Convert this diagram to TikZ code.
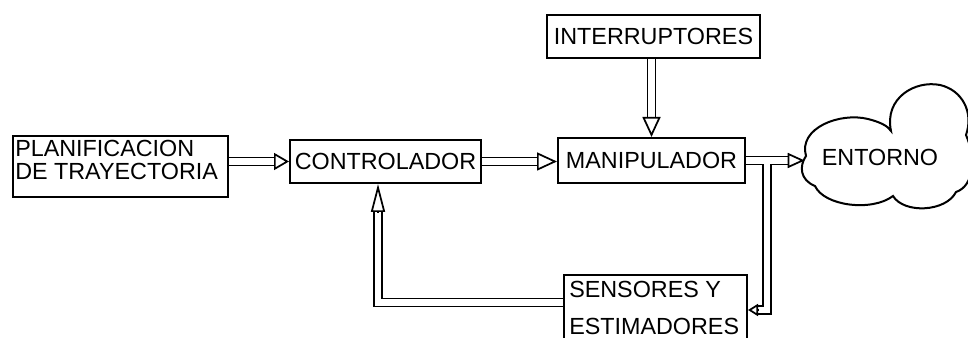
\documentclass[tikz,border=0pt]{standalone}
\usepackage{fontspec}
\setmainfont{Liberation Sans}
\usetikzlibrary{arrows.meta,calc}
\tikzset{
  box/.style={draw, line width=1.5pt, inner sep=0pt, font=\fontsize{17.5}{21}\selectfont},
  txt/.style={inner sep=0pt, anchor=north west, align=left},
  dbl/.style={draw, line width=1.3pt, double=white, double distance=4.8pt},
  hd/.style 2 args={draw, line width=1.3pt, -{Triangle[open, length=#1, width=#2]}},
  cloudline/.style={draw, line width=1.5pt},
}
\begin{document}
\begin{tikzpicture}[x=0.75pt, y=-0.75pt]
\clip (0,0) rectangle (968,338);
% boxes
\node[box, minimum width=161.25pt, minimum height=45.75pt] (plan) at (120.5,166.5) {};
\node[txt, font=\fontsize{17.5}{17.5}\selectfont] (plantext) at (15,140) {PLANIFICACION\\DE TRAYECTORIA};
\node[box, minimum width=143.25pt, minimum height=32.25pt] (cont) at (385.5,161.5) {CONTROLADOR};
\node[box, minimum width=140.25pt, minimum height=33.75pt] (manip) at (651.5,160.5) {MANIPULADOR};
\node[box, minimum width=159.75pt, minimum height=32.25pt] (intr) at (653.5,36.5) {INTERRUPTORES};
\node[box, minimum width=137.25pt, minimum height=52.5pt] (sens) at (655.5,310) {};
\node[txt, font=\fontsize{17.5}{27.75}\selectfont] (senstext) at (569,281) {SENSORES Y\\ESTIMADORES};
% cloud
\draw[cloudline] (806,156) .. controls (798,128) and (840,112) .. (868,119)
  .. controls (880,122) and (888,126) .. (891,131)
  .. controls (884,98) and (915,80) .. (940,85)
  .. controls (962,90) and (974,112) .. (966,135)
  .. controls (976,158) and (974,186) .. (956,192)
  .. controls (946,212) and (904,214) .. (893,196)
  .. controls (872,212) and (824,206) .. (815,186)
  .. controls (800,180) and (799,166) .. (806,156) -- cycle;
\node[inner sep=0pt, minimum width=112.5pt, font=\fontsize{17.5}{21}\selectfont] (ent) at (880,157) {ENTORNO};
% plan -> cont
\draw[dbl] (plan.east |- cont.west) -- ($(cont.west)+(-15,0)$);
\draw[hd={11.25pt}{12.75pt}] ($(cont.west)+(-15,0)$) -- (cont.west);
% cont -> manip
\coordinate (mi) at (cont.east -| manip.west);
\draw[dbl] (cont.east) -- ($(mi)+(-20,0)$);
\draw[hd={15pt}{13.5pt}] ($(mi)+(-20,0)$) -- (mi);
% intr -> manip
\draw[dbl] (intr.south -| manip.north) -- ($(manip.north)+(0,-20)$);
\draw[hd={15pt}{13.5pt}] ($(manip.north)+(0,-20)$) -- (manip.north);
% branch to sensors
\coordinate (br) at (manip.east -| 767,0);
\draw[dbl] (br) |- ($(sens.east)+(10,0)$);
\draw[hd={7.5pt}{9pt}] ($(sens.east)+(10,0)$) -- (sens.east);
% manip -> entorno
\coordinate (entin) at (manip.east -| ent.west);
\draw[dbl] (manip.east) -- ($(entin)+(-17,0)$);
\draw[hd={12.75pt}{11.25pt}] ($(entin)+(-17,0)$) -- (entin);
\draw[white, line width=4.8pt] (br) -- ++(0,8);
% feedback
\coordinate (fbtop) at ($(cont.south)+(-7.5,28)$);
\draw[dbl] ($(sens.west)+(0,-7.5)$) -| (fbtop);
\draw[hd={21pt}{10.5pt}] (fbtop) -- ($(cont.south)+(-7.5,0)$);
\end{tikzpicture}
\end{document}
